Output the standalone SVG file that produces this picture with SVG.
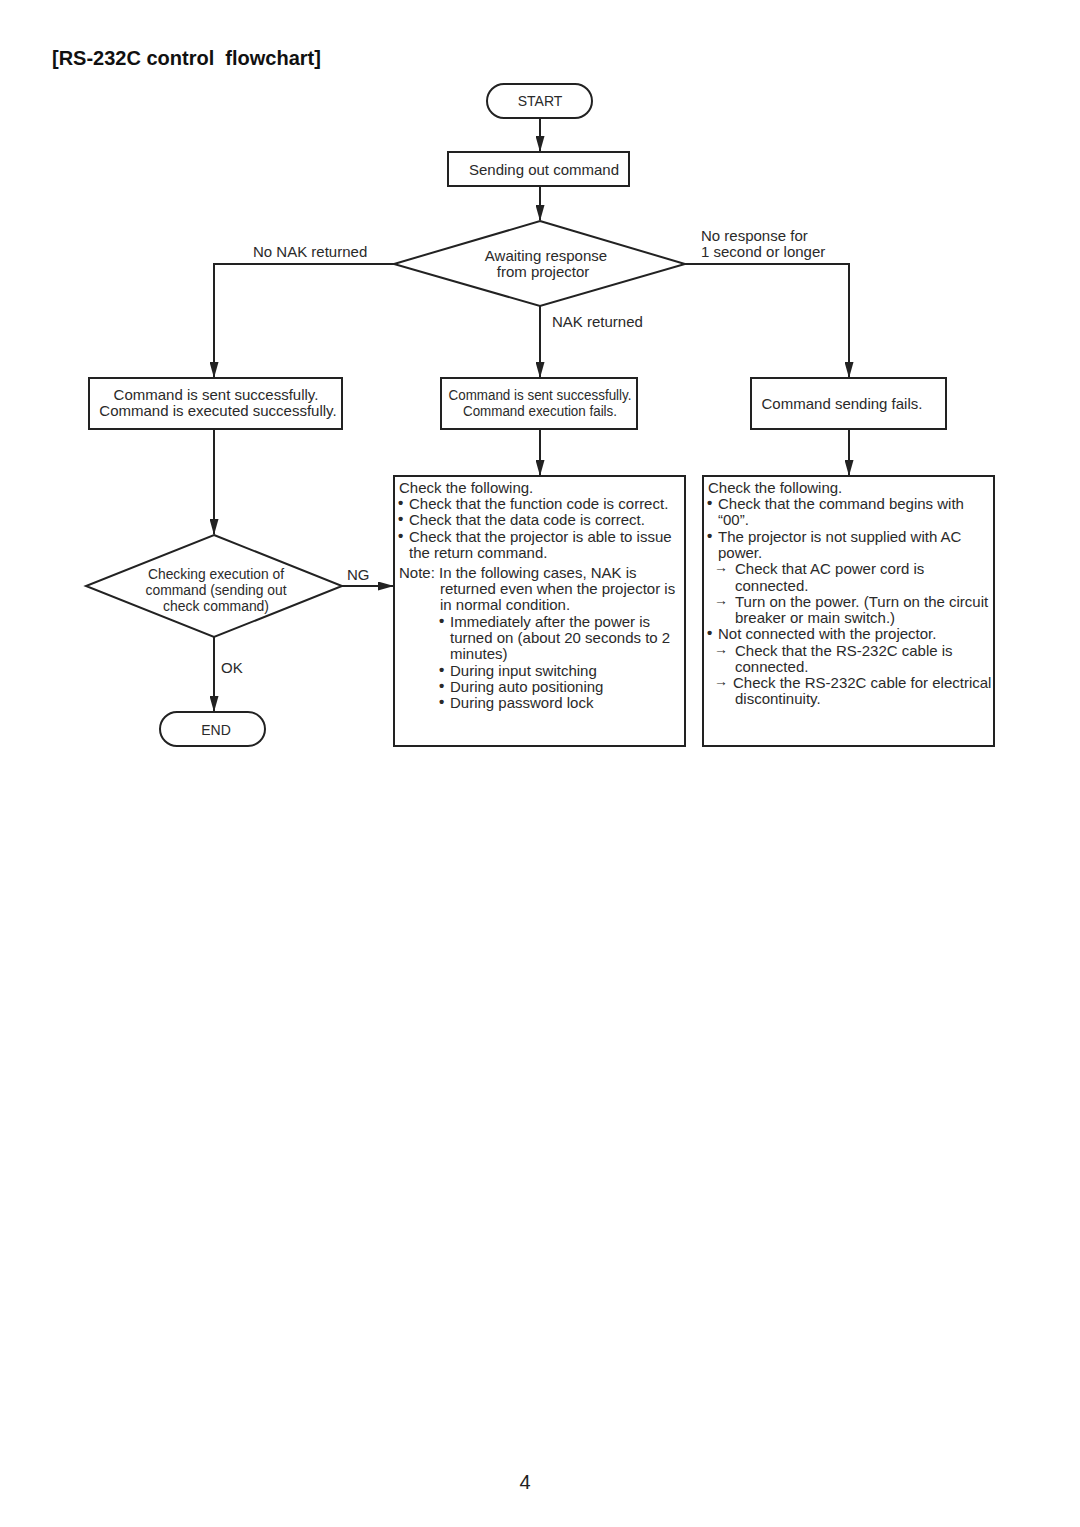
<svg xmlns="http://www.w3.org/2000/svg" width="1080" height="1527" viewBox="0 0 1080 1527">
<style>
text{font-family:"Liberation Sans",Arial,sans-serif;fill:#2a2a2a}
.t{font-size:15px}
.c{font-size:15px;text-anchor:middle}
.n{font-size:14px;text-anchor:middle}
.b{font-size:15px;font-weight:bold}
.a{font-size:14px}
.shape{fill:#fff;stroke:#222;stroke-width:2}
.line{fill:none;stroke:#222;stroke-width:2}
</style>
<defs>
<marker id="ah" markerWidth="16" markerHeight="9" refX="15" refY="4.5" orient="auto" markerUnits="userSpaceOnUse" viewBox="0 0 16 9">
<path d="M0,0 L16,4.5 L0,9 Z" fill="#222"/>
</marker>
</defs>
<rect width="1080" height="1527" fill="#fff"/>
<text x="52" y="65" xml:space="preserve" style="font-size:20px;font-weight:bold;fill:#111;white-space:pre">[RS-232C control  flowchart]</text>

<g id="connectors">
<line class="line" x1="540" y1="118" x2="540" y2="151" marker-end="url(#ah)"/>
<line class="line" x1="540" y1="186" x2="540" y2="220" marker-end="url(#ah)"/>
<polyline class="line" points="394,264 214,264 214,377" marker-end="url(#ah)"/>
<polyline class="line" points="685,264 849,264 849,377" marker-end="url(#ah)"/>
<line class="line" x1="540" y1="306" x2="540" y2="377" marker-end="url(#ah)"/>
<line class="line" x1="214" y1="429" x2="214" y2="534" marker-end="url(#ah)"/>
<line class="line" x1="342" y1="586" x2="393" y2="586" marker-end="url(#ah)"/>
<line class="line" x1="214" y1="637" x2="214" y2="711" marker-end="url(#ah)"/>
<line class="line" x1="540" y1="429" x2="540" y2="475" marker-end="url(#ah)"/>
<line class="line" x1="849" y1="429" x2="849" y2="475" marker-end="url(#ah)"/>
<text class="t" x="253" y="257">No NAK returned</text>
<text class="t" x="701" y="241">No response for</text>
<text class="t" x="701" y="257">1 second or longer</text>
<text class="t" x="552" y="327">NAK returned</text>
<text class="t" x="347" y="580">NG</text>
<text class="t" x="221" y="673">OK</text>
</g>

<g id="start">
<rect class="shape" x="487" y="84" width="105" height="34" rx="17"/>
<text class="n" x="540" y="106">START</text>
</g>

<g id="send">
<rect class="shape" x="448" y="152" width="181" height="34"/>
<text class="c" x="544" y="175">Sending out command</text>
</g>

<g id="await">
<polygon class="shape" points="540,221 685,264 540,306 394,264"/>
<text class="c" x="546" y="261">Awaiting response</text>
<text class="c" x="543" y="277">from projector</text>
</g>

<g id="ok-box">
<rect class="shape" x="89" y="378" width="253" height="51"/>
<text class="c" x="216" y="400">Command is sent successfully.</text>
<text class="c" x="218" y="416">Command is executed successfully.</text>
</g>

<g id="nak-box">
<rect class="shape" x="441" y="378" width="196" height="51"/>
<text class="n" x="540" y="400" textLength="183" lengthAdjust="spacingAndGlyphs">Command is sent successfully.</text>
<text class="n" x="540" y="416" textLength="154" lengthAdjust="spacingAndGlyphs">Command execution fails.</text>
</g>

<g id="fail-box">
<rect class="shape" x="751" y="378" width="195" height="51"/>
<text class="c" x="842" y="409">Command sending fails.</text>
</g>

<g id="check">
<polygon class="shape" points="214,535 342,586 214,637 86,586"/>
<text class="n" x="216" y="579" textLength="136" lengthAdjust="spacingAndGlyphs">Checking execution of</text>
<text class="n" x="216" y="595" textLength="141" lengthAdjust="spacingAndGlyphs">command (sending out</text>
<text class="n" x="216" y="611" textLength="106" lengthAdjust="spacingAndGlyphs">check command)</text>
</g>

<g id="end">
<rect class="shape" x="160" y="712" width="105" height="34" rx="17"/>
<text class="n" x="216" y="735">END</text>
</g>

<g id="nak-notes">
<rect class="shape" x="394" y="476" width="291" height="270"/>
<text class="t" x="399" y="493">Check the following.</text>
<text class="b" x="398" y="508">•</text><text class="t" x="409" y="509">Check that the function code is correct.</text>
<text class="b" x="398" y="524">•</text><text class="t" x="409" y="525">Check that the data code is correct.</text>
<text class="b" x="398" y="541">•</text><text class="t" x="409" y="542">Check that the projector is able to issue</text>
<text class="t" x="409" y="558">the return command.</text>
<text class="t" x="399" y="578">Note: In the following cases, NAK is</text>
<text class="t" x="440" y="594">returned even when the projector is</text>
<text class="t" x="440" y="610">in normal condition.</text>
<text class="b" x="439" y="626">•</text><text class="t" x="450" y="627">Immediately after the power is</text>
<text class="t" x="450" y="643">turned on (about 20 seconds to 2</text>
<text class="t" x="450" y="659">minutes)</text>
<text class="b" x="439" y="675">•</text><text class="t" x="450" y="676">During input switching</text>
<text class="b" x="439" y="691">•</text><text class="t" x="450" y="692">During auto positioning</text>
<text class="b" x="439" y="707">•</text><text class="t" x="450" y="708">During password lock</text>
</g>

<g id="fail-notes">
<rect class="shape" x="703" y="476" width="291" height="270"/>
<text class="t" x="708" y="493">Check the following.</text>
<text class="b" x="707" y="508">•</text><text class="t" x="718" y="509">Check that the command begins with</text>
<text class="t" x="718" y="525">“00”.</text>
<text class="b" x="707" y="541">•</text><text class="t" x="718" y="542">The projector is not supplied with AC</text>
<text class="t" x="718" y="558">power.</text>
<text class="a" x="714" y="572">→</text><text class="t" x="735" y="574">Check that AC power cord is</text>
<text class="t" x="735" y="591">connected.</text>
<text class="a" x="714" y="605">→</text><text class="t" x="735" y="607">Turn on the power. (Turn on the circuit</text>
<text class="t" x="735" y="623">breaker or main switch.)</text>
<text class="b" x="707" y="638">•</text><text class="t" x="718" y="639">Not connected with the projector.</text>
<text class="a" x="714" y="654">→</text><text class="t" x="735" y="656">Check that the RS-232C cable is</text>
<text class="t" x="735" y="672">connected.</text>
<text class="a" x="714" y="686">→</text><text class="t" x="733" y="688">Check the RS-232C cable for electrical</text>
<text class="t" x="735" y="704">discontinuity.</text>
</g>

<text x="525" y="1489" style="font-size:20px;text-anchor:middle;fill:#222">4</text>
</svg>
